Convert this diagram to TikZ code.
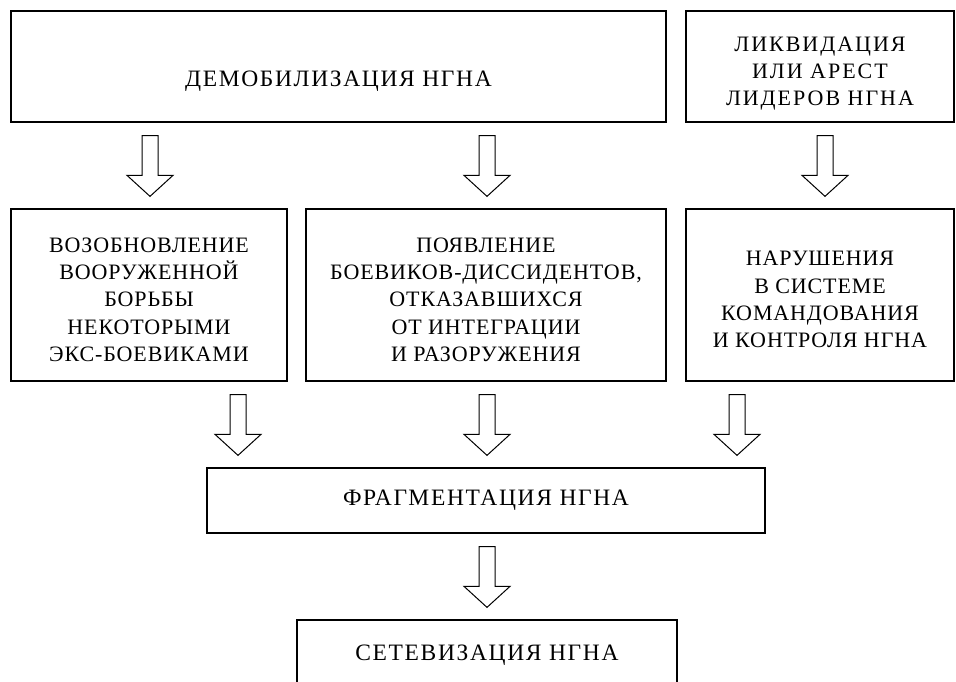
\documentclass[tikz,border=0pt]{standalone}
\usepackage{fontspec}
\setmainfont{Liberation Serif}
\usetikzlibrary{calc}
\tikzset{
  box/.style={draw, line width=1.3pt, align=center, inner sep=0pt,
    font=\fontsize{22}{27.3}\selectfont\addfontfeatures{LetterSpace=4}},
  wide/.style={font=\fontsize{23.5}{27.3}\selectfont\addfontfeatures{LetterSpace=7}},
  mid/.style={font=\fontsize{22}{27.3}\selectfont\addfontfeatures{LetterSpace=9}},
  blk/.style={draw, line width=1pt, fill=white, line join=miter}
}
\newcommand\blockarr[3]{%
  \draw[blk] let \p1=(#2.south), \p2=(#3.north) in
    ({#1pt-8pt},{\y1-13pt}) -- ({#1pt+8pt},{\y1-13pt}) -- ({#1pt+8pt},{\y2+33pt})
    -- ({#1pt+23pt},{\y2+33pt}) -- (#1pt,{\y2+12pt}) -- ({#1pt-23pt},{\y2+33pt})
    -- ({#1pt-8pt},{\y2+33pt}) -- cycle;}
\begin{document}
\begin{tikzpicture}[x=1pt,y=-1pt]
\useasboundingbox[fill=white] (0,0) rectangle (956,681);
\node[box, wide, minimum width=655pt, minimum height=111pt, text height=40pt, text depth=0pt] (top1) at (338.5,66.5) {ДЕМОБИЛИЗАЦИЯ НГНА};
\node[box, mid, minimum width=268pt, minimum height=111pt] (top2) at (820,66.5) {\rule{0pt}{29pt}ЛИКВИДАЦИЯ\\ИЛИ АРЕСТ\\ЛИДЕРОВ НГНА};
\node[box, minimum width=276pt, minimum height=172pt] (a) at (149,295) {\rule{0pt}{24pt}ВОЗОБНОВЛЕНИЕ\\ВООРУЖЕННОЙ\\БОРЬБЫ\\НЕКОТОРЫМИ\\ЭКС-БОЕВИКАМИ};
\node[box, minimum width=360pt, minimum height=172pt] (b) at (486,295) {\rule{0pt}{24pt}ПОЯВЛЕНИЕ\\БОЕВИКОВ-ДИССИДЕНТОВ,\\ОТКАЗАВШИХСЯ\\ОТ ИНТЕГРАЦИИ\\И РАЗОРУЖЕНИЯ};
\node[box, minimum width=268pt, minimum height=172pt] (c) at (820,295) {\rule{0pt}{24pt}НАРУШЕНИЯ\\В СИСТЕМЕ\\КОМАНДОВАНИЯ\\И КОНТРОЛЯ НГНА};
\node[box, wide, minimum width=558pt, minimum height=65pt] (frag) at (486,500.5) {ФРАГМЕНТАЦИЯ НГНА};
\node[box, wide, minimum width=380pt, minimum height=70pt] (set) at (487,655) {СЕТЕВИЗАЦИЯ НГНА};
\blockarr{150}{top1}{a}
\blockarr{487}{top1}{b}
\blockarr{825}{top2}{c}
\blockarr{238}{a}{frag}
\blockarr{487}{b}{frag}
\blockarr{737}{c}{frag}
\blockarr{487}{frag}{set}
\end{tikzpicture}
\end{document}
